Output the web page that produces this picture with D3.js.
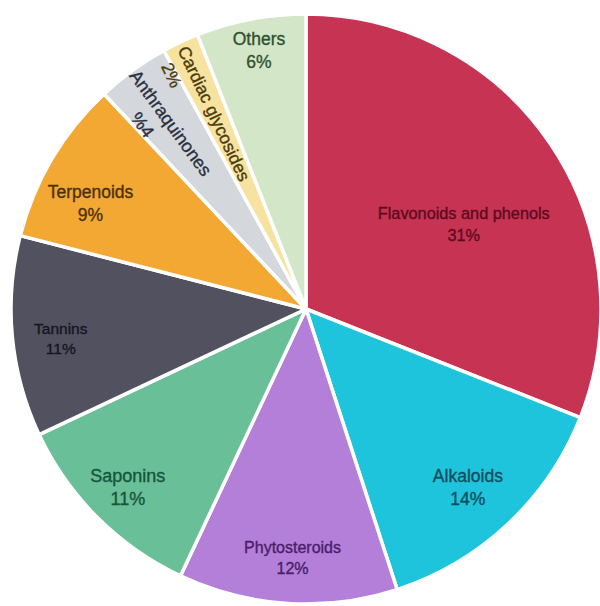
<!DOCTYPE html>
<html>
<head>
<meta charset="utf-8">
<script src="https://cdn.jsdelivr.net/npm/d3@7"></script>
<style>
  html, body { margin: 0; padding: 0; background: #fff; }
  svg { display: block; }
</style>
</head>
<body>
<svg id="chart" width="600" height="606"></svg>
<script>
// ---- data ----
const categories = ["Flavonoids and phenols", "Alkaloids", "Phytosteroids", "Saponins", "Tannins", "Terpenoids", "Anthraquinones", "Cardiac glycosides", "Others"];
const values = [31, 14, 12, 11, 11, 9, 4, 2, 6];
const percentLabels = ["31%", "14%", "12%", "11%", "11%", "9%", "%4", "2%", "6%"];
const colors = ["#c73353", "#1dc4dc", "#b47fd8", "#69bf98", "#51515f", "#f2a833", "#d4d8dc", "#f7e2a0", "#d3e7c8"];
const textColors = ["#5c0b1e", "#0c4f5c", "#4a1d6c", "#16563a", "#15151f", "#4d3006", "#2a3040", "#4a3c0c", "#30502f"];

// ---- layout ----
const svg = d3.select("#chart");
const cx = 306, cy = 309, R = 295;
const g = svg.append("g").attr("transform", `translate(${cx},${cy})`);

const pie = d3.pie().sort(null).value(d => d.value);
const arcs = pie(categories.map((c, i) => ({ name: c, value: values[i], pct: percentLabels[i], color: colors[i], tcolor: textColors[i] })));
const arc = d3.arc().innerRadius(0).outerRadius(R);

g.selectAll("path.slice")
  .data(arcs)
  .enter().append("path")
  .attr("class", "slice")
  .attr("d", arc)
  .attr("fill", d => d.data.color)
  .attr("stroke", "#ffffff")
  .attr("stroke-width", 3.5)
  .attr("stroke-linejoin", "round");

// label placement per slice: radius, angle shift (deg), font size, rotated?, second line offset
const labelLayout = {
  "Flavonoids and phenols": { r: 179, da: 6, size: 16.3 },
  "Alkaloids": { r: 241, da: 1, size: 17.5 },
  "Phytosteroids": { r: 249, da: -0.5, size: 16 },
  "Saponins": { r: 252, da: 0, size: 18 },
  "Tannins": { r: 247, da: -1.5, size: 15.5 },
  "Terpenoids": { r: 240, da: -4.5, size: 17.5 },
  "Anthraquinones": { r: 230, da: 0, size: 18, rotate: true, l2: [-15, 24] },
  "Cardiac glycosides": { r: 216, da: 0, size: 17.5, rotate: true, l2: [-53, 22] },
  "Others": { r: 263, da: 0.5, size: 17.5 }
};

const labels = g.selectAll("g.label")
  .data(arcs)
  .enter().append("g")
  .attr("class", "label")
  .attr("transform", d => {
    const L = labelLayout[d.data.name];
    const mid = (d.startAngle + d.endAngle) / 2 + L.da * Math.PI / 180;
    const x = Math.sin(mid) * L.r, y = -Math.cos(mid) * L.r;
    let t = `translate(${x},${y})`;
    if (L.rotate) t += ` rotate(${mid * 180 / Math.PI - 270})`;
    return t;
  })
  .style("font-family", "'Liberation Sans', Arial, sans-serif")
  .attr("fill", d => d.data.tcolor)
  .attr("text-anchor", "middle");

labels.each(function(d) {
  const L = labelLayout[d.data.name];
  const sel = d3.select(this).style("font-size", L.size + "px");
  const gap = L.size * 1.33;
  if (L.rotate) {
    sel.append("text").attr("dy", "0.35em").text(d.data.name);
    sel.append("text").attr("x", L.l2[0]).attr("y", L.l2[1]).attr("dy", "0.35em").text(d.data.pct);
  } else {
    sel.append("text").attr("y", -gap / 2).attr("dy", "0.35em").text(d.data.name);
    sel.append("text").attr("y", gap / 2).attr("dy", "0.35em").text(d.data.pct);
  }
  sel.selectAll("text").attr("stroke", d.data.tcolor).attr("stroke-width", 0.35);
});
</script>
</body>
</html>
